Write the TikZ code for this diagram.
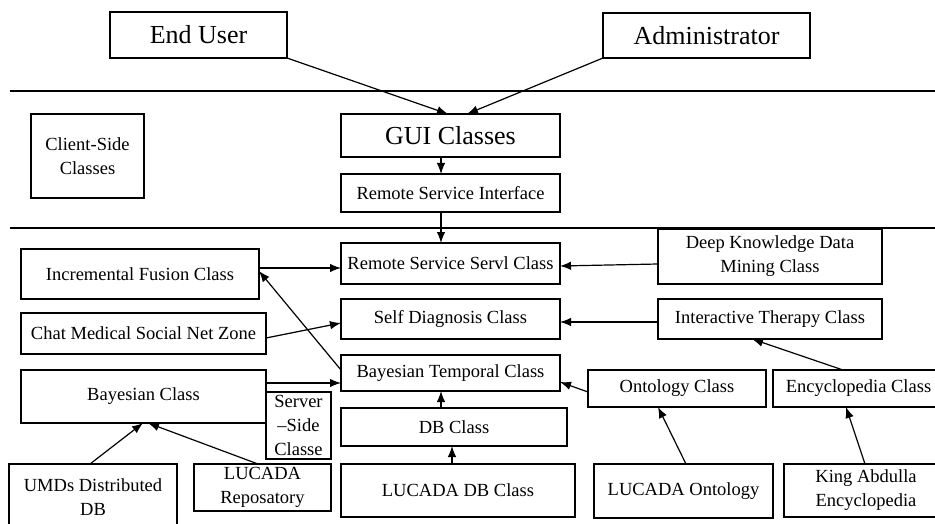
\documentclass[tikz,border=0pt]{standalone}
\usepackage{fontspec}
\setmainfont{Liberation Serif}
\usetikzlibrary{arrows.meta}
\begin{document}
\begin{tikzpicture}[x=1pt,y=-1pt,
  box/.style={draw, line width=1.1pt, inner sep=0pt, outer sep=0pt, align=center,
    font=\fontsize{18.5}{24}\selectfont},
  bigbox/.style={box, font=\fontsize{26}{30}\selectfont},
  arr/.style={line width=1.2pt, -{Latex[length=11pt,width=8.5pt]}},
  sepline/.style={line width=1.1pt}]
\useasboundingbox (0,0) rectangle (935,524);
% separators
\coordinate (s1a) at (10,91);  \coordinate (s1b) at (935,91);
\coordinate (s2a) at (10,228); \coordinate (s2b) at (935,228);
\draw[sepline] (s1a) -- (s1b);
\draw[sepline] (s2a) -- (s2b);
% nodes
\node[bigbox, minimum width=177pt, minimum height=46pt] (enduser) at (198.5,35) {End User};
\node[bigbox, minimum width=207pt, minimum height=45pt] (admin) at (706.5,35.5) {Administrator};
\node[bigbox, minimum width=219pt, minimum height=43pt] (gui) at (450.5,135.5) {GUI Classes};
\node[box, minimum width=113pt, minimum height=84pt] (client) at (87.5,156) {Client-Side\\Classes};
\node[box, minimum width=219pt, minimum height=38pt] (rsi) at (450.5,193) {Remote Service Interface};
\node[box, minimum width=219pt, minimum height=41pt] (rss) at (450.5,263.5) {Remote Service Servl Class};
\node[box, minimum width=238pt, minimum height=50pt] (fusion) at (140,274) {Incremental Fusion Class};
\node[box, minimum width=224pt, minimum height=55pt] (deep) at (770,256.5) {Deep Knowledge Data\\Mining Class};
\node[box, minimum width=219pt, minimum height=40pt] (self) at (450.5,319) {Self Diagnosis Class};
\node[box, minimum width=245pt, minimum height=41pt] (chat) at (143.5,333.5) {Chat Medical Social Net Zone};
\node[box, minimum width=224pt, minimum height=40pt] (therapy) at (770,319) {Interactive Therapy Class};
\node[box, minimum width=219pt, minimum height=36pt] (btemp) at (450.5,373) {Bayesian Temporal Class};
\node[box, minimum width=245pt, minimum height=53pt] (bayes) at (143.5,396.5) {Bayesian Class};
\node[box, minimum width=65pt, minimum height=67pt] (server) at (298.5,425.5) {Server\\–Side\\Classe};
\node[box, minimum width=226pt, minimum height=38pt] (db) at (454,427) {DB Class};
\node[box, minimum width=178pt, minimum height=37pt] (onto) at (677,388.5) {Ontology Class};
\node[box, minimum width=171pt, minimum height=37pt] (ency) at (858.5,388.5) {Encyclopedia Class};
\node[box, minimum width=168pt, minimum height=66pt] (umds) at (93,497) {UMDs Distributed\\DB};
\node[box, minimum width=137pt, minimum height=47pt] (repo) at (262.5,487.5) {LUCADA\\Reposatory};
\node[box, minimum width=234pt, minimum height=53pt] (ldb) at (458,490.5) {LUCADA DB Class};
\node[box, minimum width=179pt, minimum height=54pt] (lont) at (683.5,491) {LUCADA Ontology};
\node[box, minimum width=164pt, minimum height=53pt] (king) at (866,490.5) {King Abdulla\\Encyclopedia};
% connectors
\draw[arr] (enduser.south east) -- (gui.north -| 448,0);
\draw[arr] (admin.south west) -- (gui.north -| 467,0);
\draw[arr] (gui.south -| 441,0) -- (rsi.north -| 441,0);
\draw[arr] (rsi.south -| 441,0) -- (rss.north -| 441,0);
\draw[arr] (fusion.east |- 0,268) -- (rss.west |- 0,268);
\draw[arr] (deep.west |- 0,264) -- (rss.east |- 0,266);
\draw[arr] (chat.east |- 0,338) -- (self.west |- 0,323);
\draw[arr] (therapy.west |- 0,322) -- (self.east |- 0,322);
\draw[arr] (ency.north -| 843,0) -- (therapy.south -| 752,0);
\draw[arr] (btemp.west |- 0,370) -- (fusion.east |- 0,271);
\draw[arr] (bayes.east |- 0,383) -- (btemp.west |- 0,383);
\draw[arr] (onto.west |- 0,392) -- (btemp.east |- 0,382);
\draw[arr] (db.north -| 441,0) -- (btemp.south -| 441,0);
\draw[arr] (ldb.north -| 452,0) -- (db.south -| 452,0);
\draw[arr] (umds.north -| 90,0) -- (bayes.south -| 143,0);
\draw[arr] (repo.north -| 258,0) -- (bayes.south -| 148,0);
\draw[arr] (lont.north -| 686,0) -- (onto.south -| 658,0);
\draw[arr] (king.north -| 865,0) -- (ency.south -| 846,0);
\end{tikzpicture}
\end{document}
